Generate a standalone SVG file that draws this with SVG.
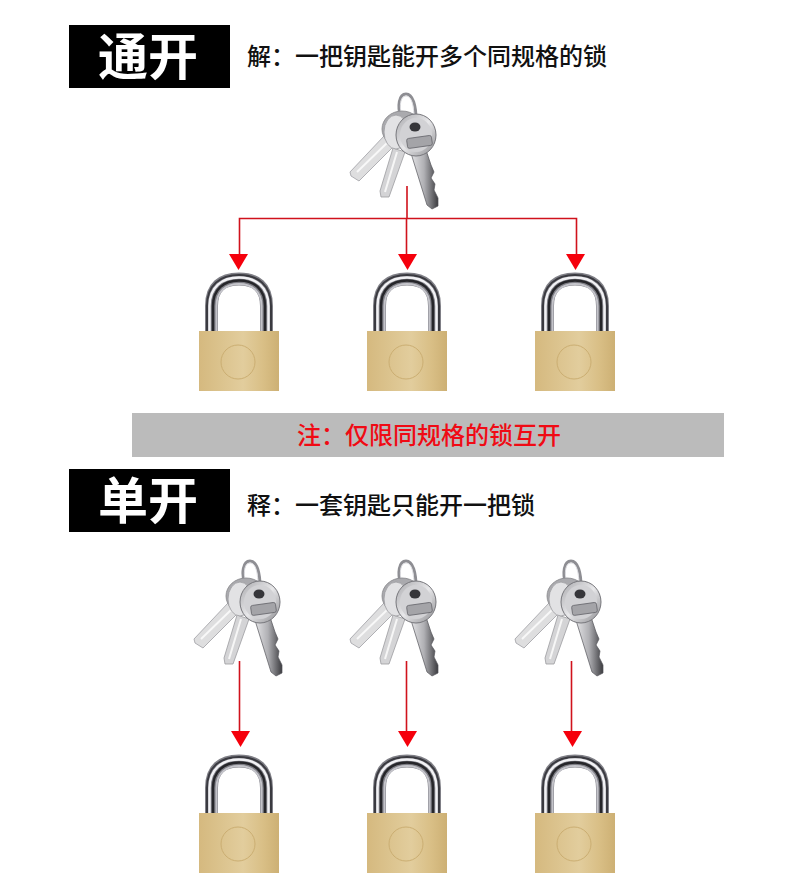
<svg xmlns="http://www.w3.org/2000/svg" width="790" height="888" viewBox="0 0 790 888">
<style>
text{font-family:"Noto Sans CJK SC","Noto Sans",sans-serif}
.title{font-size:50px;fill:#fff;font-weight:700}
.sub{font-size:24px;fill:#111;font-weight:500}
.note{font-size:24px;fill:#f00a14;font-weight:500}
.line{fill:none;stroke:#d0121c;stroke-width:1.6}
.head{fill:#f5000c}
</style>
<defs>
<linearGradient id="brass" x1="0" y1="0" x2="1" y2="0"><stop offset="0" stop-color="#d5b97f"/><stop offset=".3" stop-color="#dcc48f"/><stop offset=".55" stop-color="#e2cd9d"/><stop offset=".8" stop-color="#d9bf86"/><stop offset="1" stop-color="#cdb074"/></linearGradient>
<linearGradient id="steel" x1="0" y1="0" x2="1" y2="1"><stop offset="0" stop-color="#a8a8ac"/><stop offset=".5" stop-color="#e8e8ea"/><stop offset="1" stop-color="#8c8c90"/></linearGradient>
<linearGradient id="blade" x1="0" y1="0" x2="1" y2="0"><stop offset="0" stop-color="#e8e8ea"/><stop offset=".5" stop-color="#b0b0b4"/><stop offset="1" stop-color="#3c3c40"/></linearGradient>
<path id="arc" d="M211.500 333V306C211.500 287 222 279 239 279C256 279 266.500 287 266.500 306V333" fill="none"/>
<g id="lock">
<use href="#arc" stroke="#7f7f86" stroke-width="13"/>
<path d="M207 333V306C207 285 220 275 239 275C258 275 271 285 271 306V333" fill="none" stroke="#3a3a40" stroke-width="2"/>
<path d="M209.500 333V306C209.500 287 222 277.500 239 277.500C256 277.500 268.500 287 268.500 306V333" fill="none" stroke="#f2f2f5" stroke-width="2.500"/>
<path d="M213 333V306C213 289 224 280.500 239 280.500C254 280.500 265 289 265 306V333" fill="none" stroke="#26262a" stroke-width="2.500"/>
<path d="M216.500 333V306C216.500 291 226 284 239 284C252 284 261.500 291 261.500 306V333" fill="none" stroke="#c4c4ca" stroke-width="2"/>
<rect x="199" y="331" width="80" height="60" fill="url(#brass)"/>
<circle cx="238" cy="362" r="17" fill="none" stroke="#cbae72" stroke-width="1"/>
</g>
<g id="keys">
<path d="M401 118C397 106 399 94 406 94C413 94 416 106 416 120" fill="none" stroke="#8e8e93" stroke-width="3"/>
<path d="M402 118C399 106 400 96 406 96C412 96 414 106 414 120" fill="none" stroke="#dcdce0" stroke-width="1"/>
<path d="M384 136L394 146L359 181L351 176L350 172Z" fill="#dededf" stroke="#a0a0a4" stroke-width=".8"/>
<path d="M357 172L388 142" stroke="#f8f8f8" stroke-width="2"/>
<path d="M393 148L405 152L389 197L381 197L380 191Z" fill="#d4d4d6" stroke="#9c9ca0" stroke-width=".8"/>
<path d="M385 192L397 152" stroke="#f6f6f6" stroke-width="2"/>
<ellipse cx="402" cy="129" rx="20" ry="18" fill="#aaaaae" stroke="#86868a" stroke-width=".8"/>
<ellipse cx="396" cy="132" rx="12" ry="17" fill="#e2e2e4" stroke="#9a9a9e" stroke-width=".8"/>
<path d="M410 150L426 150L431 165L434 172L431 178L435 184L434 190L438 198L438 206L432 209L427 205Z" fill="url(#blade)" stroke="#55555a" stroke-width=".7"/>
<ellipse cx="416" cy="135" rx="20" ry="21" fill="url(#steel)" stroke="#77777c" stroke-width="1"/>
<ellipse cx="416" cy="135" rx="16" ry="17" fill="#d2d2d5"/>
<ellipse cx="415" cy="127" rx="5.500" ry="4.500" fill="#36363a"/>
<rect x="407" y="137" width="25" height="10" rx="2" fill="#a4a4a8" stroke="#66666c" stroke-width=".8" transform="rotate(-8 419 142)"/>
</g>
</defs>
<rect width="790" height="888" fill="#fff"/>
<g id="connectors">
<path class="line" d="M407 186V218M239.500 255V218.500H576.500V255M406.500 218V255"/>
<polygon class="head" points="229,254 248,254 238.500,270"/>
<polygon class="head" points="398,254 417,254 407.500,270"/>
<polygon class="head" points="566,254 585,254 575.500,270"/>
<path class="line" d="M239.500 661V732M406.500 661V732M571.500 661V732"/>
<polygon class="head" points="231,731 250,731 240.500,747"/>
<polygon class="head" points="398,731 417,731 407.500,747"/>
<polygon class="head" points="563,731 582,731 572.500,747"/>
</g>
<g id="title-tongkai"><rect x="69" y="25" width="161" height="63" fill="#000"/><text class="title" x="98" y="75">通开</text></g>
<text id="desc-1" class="sub" x="247" y="65">解：一把钥匙能开多个同规格的锁</text>
<g id="keys-top"><use href="#keys"/></g>
<g id="lock-1"><use href="#lock"/></g>
<g id="lock-2"><use href="#lock" x="168"/></g>
<g id="lock-3"><use href="#lock" x="336"/></g>
<g id="note"><rect x="132" y="413" width="592" height="44" fill="#bbb"/><text class="note" x="297" y="444">注：仅限同规格的锁互开</text></g>
<g id="title-dankai"><rect x="69" y="469" width="161" height="63" fill="#000"/><text class="title" x="98" y="519">单开</text></g>
<text id="desc-2" class="sub" x="247" y="514">释：一套钥匙只能开一把锁</text>
<g id="keys-a"><use href="#keys" x="-156" y="467"/></g>
<g id="keys-b"><use href="#keys" y="467"/></g>
<g id="keys-c"><use href="#keys" x="165" y="467"/></g>
<g id="lock-4"><use href="#lock" y="482"/></g>
<g id="lock-5"><use href="#lock" x="168" y="482"/></g>
<g id="lock-6"><use href="#lock" x="336" y="482"/></g>
</svg>
